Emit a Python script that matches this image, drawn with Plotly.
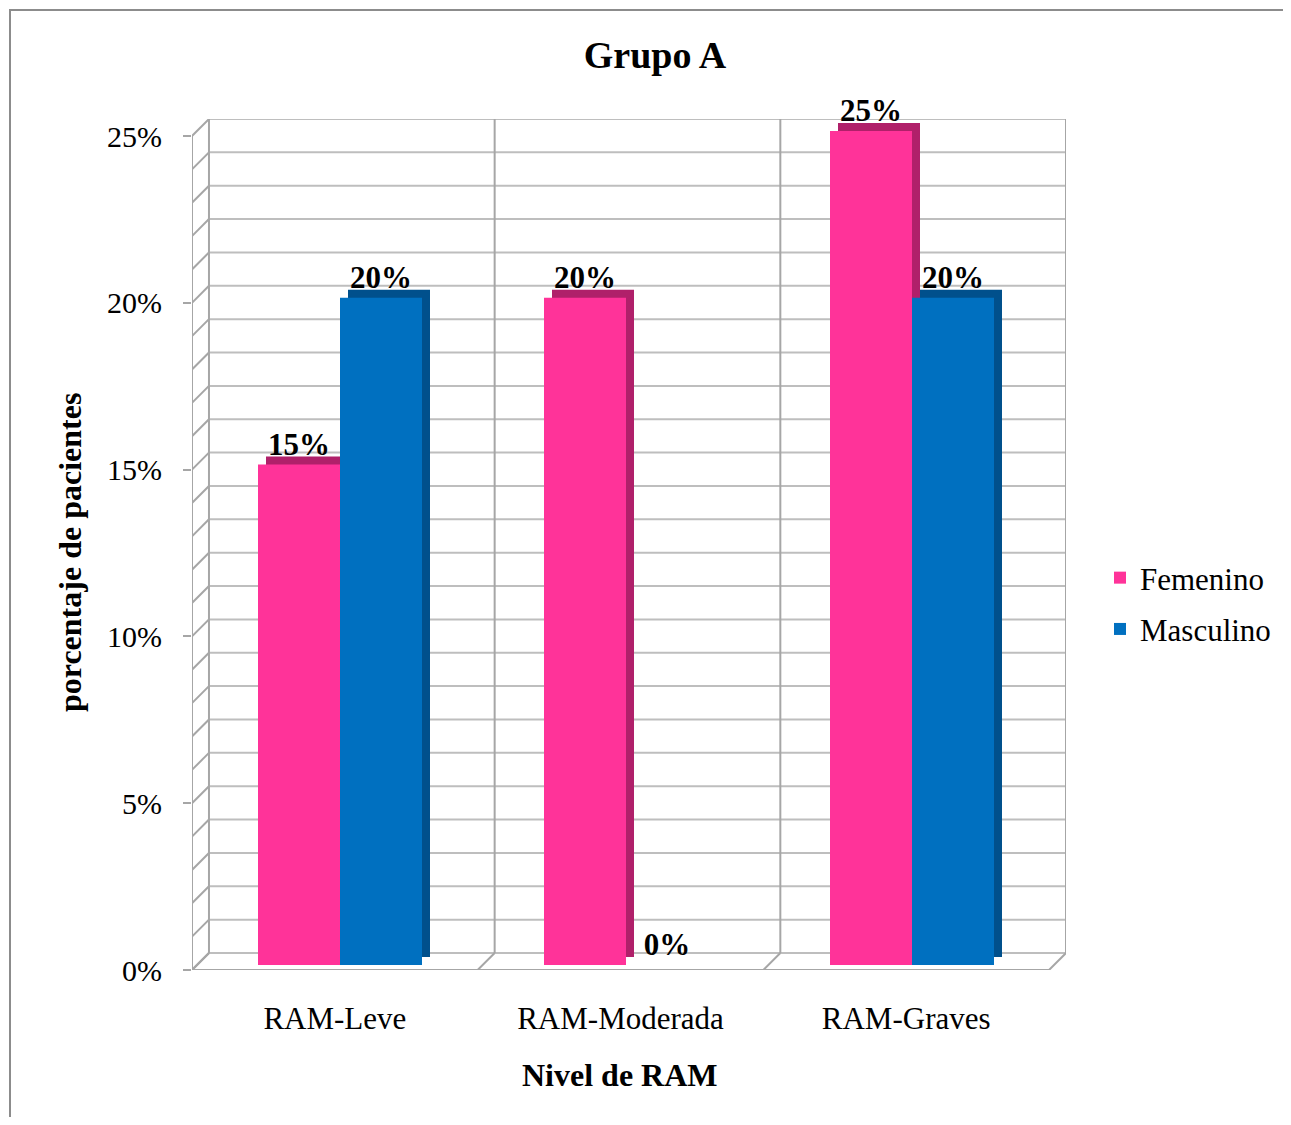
import plotly.graph_objects as go

# ---- data ----
categories = ["RAM-Leve", "RAM-Moderada", "RAM-Graves"]
femenino = [15, 20, 25]
masculino = [20, 0, 20]
series_names = ["Femenino", "Masculino"]
y_ticks = [0, 5, 10, 15, 20, 25]
y_tick_labels = ["0%", "5%", "10%", "15%", "20%", "25%"]

OFF = 8  # page body margin
W, H = 1291 - 2 * OFF, 1125 - 2 * OFF
FONT = "Liberation Serif"
PINK, PINK_D = "#FF3399", "#B0206A"
BLUE, BLUE_D = "#0070C0", "#00508C"
GRID = "#BEBEBE"
WALL = "#A6A6A6"


def fx(px):
    return (px - OFF) / W


def fy(px):
    return 1 - (px - OFF) / H


PXU = 33.36          # pixels per percent unit
CAT = 286            # pixels per category
DX, DY = 17 / CAT, 17 / PXU   # back wall offset in axis units

fig = go.Figure()

# ---- decorative 3D frame on axis x/y ----
ymax = 25 + DY
xmin, xmax = -0.5, 2.5 + DX

gx, gy = [], []
for v in range(0, 26):
    gx += [-0.5 + DX, xmax, None]
    gy += [v + DY, v + DY, None]
fig.add_trace(go.Scatter(x=gx, y=gy, mode="lines", line=dict(color=GRID, width=2),
                         hoverinfo="skip", showlegend=False, xaxis="x", yaxis="y"))
dx_, dy_ = [], []
for v in range(0, 26):
    dx_ += [-0.5, -0.5 + DX, None]
    dy_ += [v, v + DY, None]
fig.add_trace(go.Scatter(x=dx_, y=dy_, mode="lines", line=dict(color=WALL, width=2),
                         hoverinfo="skip", showlegend=False, xaxis="x", yaxis="y"))
vx, vy = [], []
for k in range(0, 4):
    vx += [k - 0.5 + DX, k - 0.5 + DX, None]
    vy += [DY, ymax, None]
    vx += [k - 0.5, k - 0.5 + DX, None]
    vy += [0, DY, None]
vx += [-0.5 - 7 / CAT, 2.5, None, -0.5, -0.5, None]
vy += [0, 0, None, 0, 25, None]
fig.add_trace(go.Scatter(x=vx, y=vy, mode="lines", line=dict(color=WALL, width=2),
                         hoverinfo="skip", showlegend=False, xaxis="x", yaxis="y"))

# ---- bar depth (shifted, drawn first) ----
for name, vals, col in [(series_names[0], femenino, PINK_D), (series_names[1], masculino, BLUE_D)]:
    fig.add_trace(go.Bar(x=categories, y=vals, marker=dict(color=col, line=dict(width=0)),
                         showlegend=False, hoverinfo="skip", xaxis="x3", yaxis="y3"))

# ---- bar front faces ----
for name, vals, col in [(series_names[0], femenino, PINK), (series_names[1], masculino, BLUE)]:
    fig.add_trace(go.Bar(x=categories, y=vals, name=name, legendgroup=name,
                         marker=dict(color=col, line=dict(width=0)),
                         text=[f"<b>{v}%</b>" for v in vals], textposition="outside",
                         textfont=dict(family=FONT, size=31, color="black"),
                         cliponaxis=False, xaxis="x4", yaxis="y4"))

front_left, front_right_px = 192, 1066
bar_shift = 5
depth = 8
y0_front = 970
y0_bar = 965

fig.update_layout(
    template="none",
    width=W, height=H, autosize=False,
    margin=dict(l=0, r=0, t=0, b=0, autoexpand=False),
    paper_bgcolor="white", plot_bgcolor="rgba(0,0,0,0)",
    bargap=0.4266, barmode="group",
    font=dict(family=FONT, color="black"),
    title=dict(text="<b>Grupo A</b>", x=fx(655), y=fy(55), xanchor="center", yanchor="middle",
               font=dict(family=FONT, size=38, color="black")),
    xaxis=dict(domain=[fx(front_left), fx(front_right_px)], range=[xmin, xmax],
               showgrid=False, zeroline=False, showline=False, automargin=False,
               tickvals=[0, 1, 2], ticktext=categories, ticks="",
               tickfont=dict(family=FONT, size=31, color="black"),
               ticklabelstandoff=27, fixedrange=True),
    yaxis=dict(domain=[fy(y0_front), fy(y0_front - ymax * PXU)], range=[0, ymax],
               showgrid=False, zeroline=False, showline=False, automargin=False,
               tickvals=y_ticks, ticktext=y_tick_labels, ticks="outside", ticklen=8,
               tickwidth=2, tickcolor=WALL,
               tickfont=dict(family=FONT, size=30, color="black"),
               ticklabelstandoff=15, fixedrange=True),
    xaxis3=dict(domain=[fx(front_left + bar_shift + depth),
                        fx(front_left + bar_shift + depth + 3 * CAT)],
                range=[-0.5, 2.5], type="category", visible=False, anchor="y3",
                automargin=False, fixedrange=True),
    yaxis3=dict(domain=[fy(y0_bar - depth), fy(y0_bar - depth - 25.5 * PXU)], range=[0, 25.5],
                visible=False, anchor="x3", automargin=False, fixedrange=True),
    xaxis4=dict(domain=[fx(front_left + bar_shift), fx(front_left + bar_shift + 3 * CAT)],
                range=[-0.5, 2.5], type="category", visible=False, anchor="y4",
                automargin=False, fixedrange=True),
    yaxis4=dict(domain=[fy(y0_bar), fy(y0_bar - 25.5 * PXU)], range=[0, 25.5],
                visible=False, anchor="x4", automargin=False, fixedrange=True),
    legend=dict(x=fx(1100), y=fy(551), xanchor="left", yanchor="top",
                font=dict(family=FONT, size=31, color="black"),
                traceorder="grouped", tracegroupgap=8, bgcolor="rgba(0,0,0,0)",
                itemclick=False, itemdoubleclick=False),
    annotations=[
        dict(text="<b>porcentaje de pacientes</b>", x=fx(70), y=fy(553), xref="paper",
             yref="paper", textangle=-90, showarrow=False, xanchor="center", yanchor="middle",
             font=dict(family=FONT, size=32, color="black")),
        dict(text="<b>Nivel de RAM</b>", x=fx(620), y=fy(1075), xref="paper", yref="paper",
             showarrow=False, xanchor="center", yanchor="middle",
             font=dict(family=FONT, size=32, color="black")),
    ],
    shapes=[dict(type="rect", xref="paper", yref="paper", x0=fx(10), x1=fx(1340),
                 y0=fy(1160), y1=fy(10), line=dict(color="#8C8C8C", width=2),
                 fillcolor="rgba(0,0,0,0)", layer="below")],
)

fig.write_html("out.html")
